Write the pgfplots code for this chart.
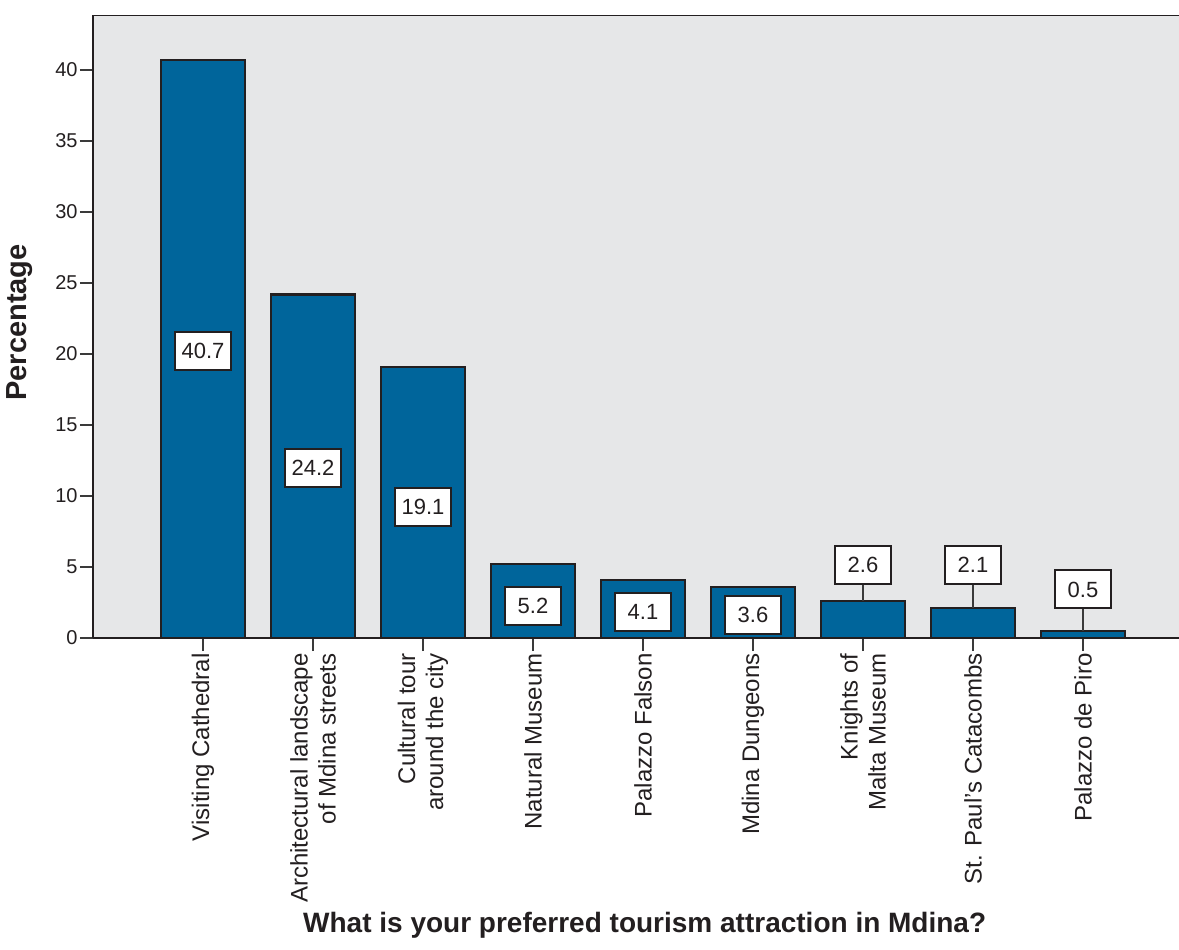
\documentclass[border=0pt]{standalone}
\usepackage{pgfplots}
\pgfplotsset{compat=1.18}
\usepackage{fontspec}
\setmainfont{Liberation Sans}
\usetikzlibrary{calc}
\definecolor{barblue}{HTML}{00659B}
\definecolor{bgray}{HTML}{E6E7E8}
\definecolor{dark}{HTML}{231F20}
\definecolor{tickc}{HTML}{3A3A3A}
\pgfplotstableread{
x y
1 40.7
2 24.2
3 19.1
4 5.2
5 4.1
6 3.6
7 2.6
8 2.1
9 0.5
}\bars
\pgfplotstableread{
x y label
1 20.2 40.7
2 12.0 24.2
3 9.2 19.1
4 2.25 5.2
5 1.85 4.1
6 1.6 3.6
7 5.17 2.6
8 5.17 2.1
9 3.42 0.5
}\labels
\begin{document}
\begin{tikzpicture}
\begin{axis}[
  scale only axis,
  width=543pt, height=311.5pt,
  xmin=0, xmax=9.873,
  ymin=0, ymax=43.87,
  axis x line*=bottom, axis y line*=left,
  axis line style={-, line width=1.2pt, draw=dark},
  axis background/.style={fill=bgray},
  tick align=outside,
  major tick length=6.5pt,
  tick style={line width=0.7pt, draw=tickc},
  ytick={0,5,...,40},
  xtick={1,...,9},
  /pgf/number format/assume math mode=true,
  yticklabel style={font=\fontsize{10}{12}\selectfont, text=dark, inner sep=1pt},
  xticklabels={Visiting Cathedral,
    Architectural landscape\\of Mdina streets,
    Cultural tour\\around the city,
    Natural Museum,
    Palazzo Falson,
    Mdina Dungeons,
    Knights of\\Malta Museum,
    St. Paul’s Catacombs,
    Palazzo de Piro},
  xticklabel style={rotate=90, anchor=east, align=right, inner sep=1pt,
    font=\fontsize{12}{14}\selectfont, text=dark},
  ylabel={Percentage},
  ylabel style={at={(rel axis cs:-0.05525,0.5064)}, anchor=south, rotate=0, inner sep=0pt,
    font=\fontsize{14.5}{17}\selectfont\bfseries, text=dark},
  xlabel={What is your preferred tourism attraction in Mdina?},
  xlabel style={at={(rel axis cs:0.508,-0.4735)}, anchor=base, inner sep=0pt,
    font=\fontsize{14}{17}\selectfont\bfseries, text=dark},
]
\addplot[ybar, bar width=0.76, fill=barblue, draw=dark, line width=1.2pt] table[x=x,y=y] {\bars};
\addplot[draw=tickc, line width=0.7pt, mark=none, unbounded coords=jump] coordinates {
  (7,2.6) (7,5.17) (7,nan) (8,2.1) (8,5.17) (8,nan) (9,0.5) (9,3.42)};
\addplot[draw=none, mark=none, nodes near coords, point meta=explicit symbolic,
  every node near coord/.append style={anchor=center, draw=dark, line width=1pt, fill=white,
    minimum width=28pt, minimum height=19pt, inner sep=0pt,
    font=\fontsize{11}{13}\selectfont, text=dark}]
  table[x=x, y=y, meta=label] {\labels};
\draw[line width=1.2pt, draw=dark] (rel axis cs:0,1) -- (rel axis cs:1,1);
\coordinate (sw) at (rel axis cs:0,0);
\coordinate (ne) at (rel axis cs:1,1);
\end{axis}
\pgfresetboundingbox
\path[use as bounding box] ($(sw)+(-46.5pt,-155.5pt)$) rectangle ($(ne)+(0pt,7.5pt)$);
\end{tikzpicture}
\end{document}
